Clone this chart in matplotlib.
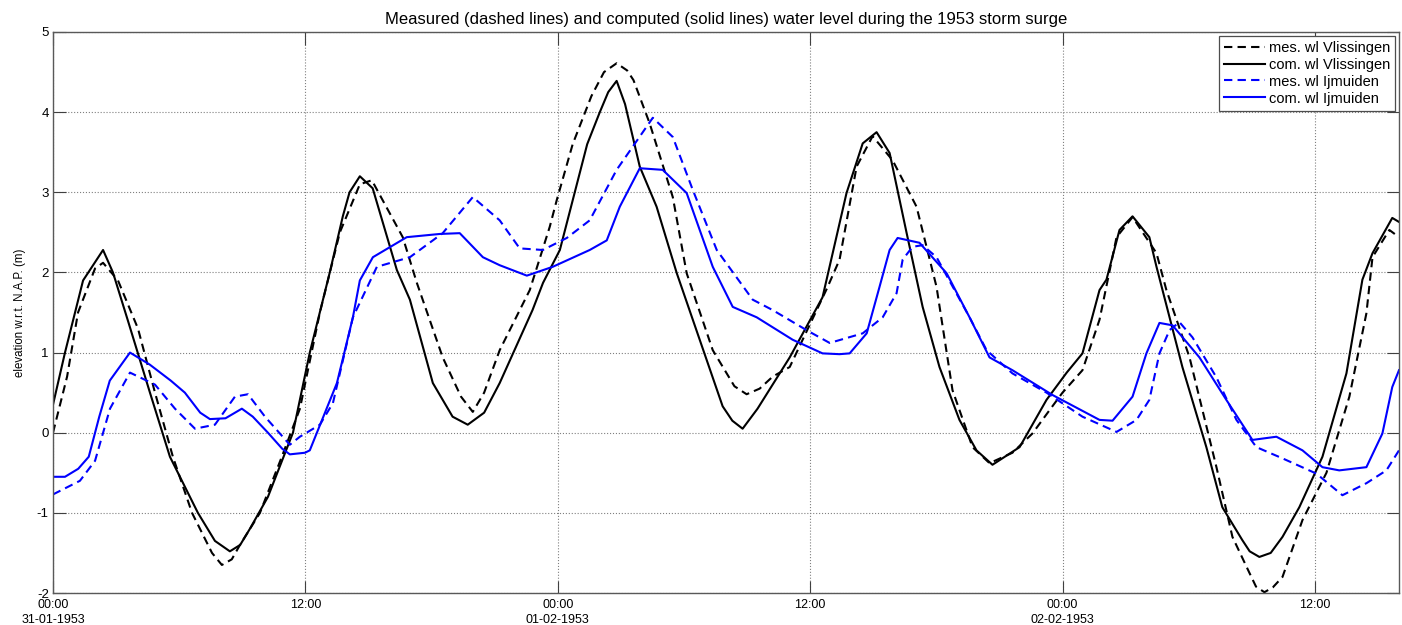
import numpy as np
import matplotlib
matplotlib.use("Agg")
import matplotlib.pyplot as plt

plt.rcParams['font.family'] = ['Liberation Sans', 'DejaVu Sans']
plt.rcParams['axes.unicode_minus'] = False

# hours since 31-01-1953 00:00, water level (m) w.r.t. N.A.P.
t_mes_vl = [0, 0.67, 1.19, 2.0, 2.38, 3.09, 4.04, 4.85, 5.70, 6.61, 7.56, 8.03, 8.5, 8.89, 9.84,
            10.88, 11.74, 12.69, 13.64, 14.59, 15.16, 16.63, 17.30, 18.53, 19.4, 19.96, 20.5, 21.24,
            22.67, 23.62, 23.95, 24.71, 25.6, 26.2, 26.8, 27.3, 27.6, 28.37, 29.47, 30.13, 31.37,
            32.4, 32.98, 33.6, 34.22, 35.03, 36.8, 37.4, 38.21, 38.97, 39.92, 41.06, 42.01, 42.77,
            43.72, 44.53, 45.62, 46.57, 47.38, 48.0, 48.95, 49.76, 50.57, 51.33, 52.47, 52.94,
            54.04, 55.32, 56.08, 56.89, 57.2, 57.60, 58.0, 58.46, 59.41, 60.55, 61.64, 62.45,
            62.74, 63.54, 64.0]
wl_mes_vl = [0.0, 0.7, 1.5, 2.05, 2.12, 1.9, 1.3, 0.5, -0.3, -1.0, -1.5, -1.65, -1.58, -1.4, -1.0,
             -0.3, 0.3, 1.5, 2.5, 3.1, 3.15, 2.44, 1.87, 0.94, 0.45, 0.26, 0.5, 1.03,
             1.78, 2.57, 2.90, 3.6, 4.2, 4.5, 4.61, 4.52, 4.4, 3.86, 2.94, 1.99, 1.03,
             0.58, 0.48, 0.55, 0.70, 0.82, 1.8, 2.16, 3.32, 3.70, 3.40, 2.82, 1.82, 0.53,
             -0.18, -0.38, -0.25, -0.01, 0.28, 0.5, 0.78, 1.41, 2.44, 2.69, 2.24, 1.78,
             0.94, -0.43, -1.30, -1.75, -1.92, -1.99, -1.93, -1.80, -1.09, -0.50, 0.45, 1.49,
             2.19, 2.53, 2.44]

t_com_vl = [0, 0.57, 1.43, 2.38, 2.85, 3.56, 4.61, 5.56, 6.89, 7.7, 8.41, 8.9, 9.36, 10.22,
            11.41, 12.21, 13.16, 13.78, 14.1, 14.59, 15.2, 16.35, 16.97, 18.06, 19.0, 19.72,
            20.5, 21.24, 22.8, 23.3, 24.1, 25.4, 26.0, 26.4, 26.8, 27.2, 27.9, 28.7, 29.66,
            30.75, 31.84, 32.3, 32.79, 33.5, 35.03, 36.59, 37.73, 38.5, 39.16, 39.78, 40.59,
            41.35, 42.15, 43.10, 43.91, 44.67, 45.96, 47.24, 48.2, 48.95, 49.76, 50.09, 50.71,
            51.33, 52.13, 52.47, 53.70, 54.84, 55.60, 56.55, 56.9, 57.36, 57.9, 58.46, 59.26,
            60.36, 61.50, 62.26, 62.74, 63.68, 64.0]
wl_com_vl = [0.35, 1.0, 1.9, 2.28, 2.0, 1.4, 0.5, -0.3, -1.0, -1.35, -1.48, -1.4, -1.2, -0.8,
             0.0, 1.0, 2.0, 2.7, 3.0, 3.20, 3.05, 2.03, 1.66, 0.62, 0.2, 0.10,
             0.25, 0.62, 1.53, 1.87, 2.28, 3.6, 4.0, 4.25, 4.39, 4.1, 3.32, 2.82, 1.99,
             1.16, 0.33, 0.15, 0.05, 0.3, 0.94, 1.69, 2.99, 3.61, 3.75, 3.49, 2.49,
             1.57, 0.82, 0.16, -0.22, -0.40, -0.18, 0.41, 0.75, 0.99, 1.78, 1.91, 2.53,
             2.70, 2.44, 2.07, 0.82, -0.18, -0.93, -1.34, -1.48, -1.55, -1.5, -1.30, -0.93,
             -0.30, 0.74, 1.91, 2.24, 2.68, 2.63]

t_mes_ij = [0, 1.28, 2.0, 2.71, 3.66, 4.85, 5.80, 6.75, 7.70, 8.65, 9.27, 10.08, 11.26, 11.74,
            12.69, 13.31, 14.26, 15.40, 16.97, 18.53, 19.96, 21.24, 22.19, 23.29, 24.43, 25.52,
            26.80, 28.52, 29.47, 30.42, 31.56, 33.27, 34.22, 35.83, 36.93, 38.50, 39.45, 40.11,
            40.40, 40.87, 41.35, 42.01, 43.58, 44.39, 45.62, 47.24, 48.95, 50.57, 51.52, 52.13,
            52.61, 53.09, 53.56, 54.18, 55.32, 56.27, 57.22, 58.46, 60.07, 61.31, 62.45, 63.40,
            64.0]
wl_mes_ij = [-0.77, -0.6, -0.35, 0.3, 0.75, 0.6, 0.3, 0.05, 0.1, 0.45, 0.48, 0.2, -0.15, -0.05,
             0.1, 0.37, 1.44, 2.07, 2.19, 2.49, 2.94, 2.65, 2.30, 2.28, 2.43, 2.65,
             3.28, 3.93, 3.69, 3.03, 2.28, 1.66, 1.53, 1.28, 1.12, 1.24, 1.44, 1.74,
             2.16, 2.32, 2.34, 2.19, 1.44, 1.03, 0.74, 0.50, 0.20, 0.01, 0.16, 0.41,
             0.99, 1.28, 1.38, 1.19, 0.69, 0.16, -0.18, -0.32, -0.51, -0.78, -0.63, -0.47,
             -0.22]

t_com_ij = [0, 0.57, 1.2, 1.7, 2.2, 2.7, 3.66, 4.6, 5.6, 6.27, 7.0, 7.46, 8.2, 8.98, 9.5,
            10.22, 10.9, 11.26, 11.98, 12.21, 13.50, 14.26, 14.59, 15.21, 16.82, 18.39, 19.34,
            20.44, 21.24, 22.53, 23.76, 25.52, 26.33, 26.95, 27.90, 28.99, 30.13, 31.37, 32.32,
            33.46, 35.17, 36.59, 37.40, 37.88, 38.69, 39.30, 39.78, 40.16, 41.20, 42.49, 43.58,
            44.53, 45.62, 47.53, 49.76, 50.38, 51.33, 51.99, 52.61, 53.23, 54.51, 55.79, 57.03,
            58.17, 59.41, 60.36, 61.16, 62.45, 63.21, 63.68, 64.0]
wl_com_ij = [-0.55, -0.55, -0.45, -0.3, 0.2, 0.65, 1.0, 0.85, 0.65, 0.5, 0.25, 0.17, 0.18, 0.3, 0.2,
             0.0, -0.2, -0.27, -0.25, -0.22, 0.62, 1.44, 1.90, 2.19, 2.44, 2.48, 2.49,
             2.19, 2.09, 1.96, 2.07, 2.28, 2.40, 2.82, 3.30, 3.28, 2.99, 2.07, 1.57,
             1.44, 1.16, 0.99, 0.98, 0.99, 1.24, 1.82, 2.28, 2.43, 2.37, 1.99, 1.44,
             0.94, 0.78, 0.47, 0.16, 0.15, 0.45, 0.99, 1.37, 1.34, 0.94, 0.41, -0.09,
             -0.05, -0.22, -0.43, -0.47, -0.43, -0.01, 0.57, 0.78]

tick_hours = [0, 12, 24, 36, 48, 60]
tick_labels = ['00:00\n31-01-1953', '12:00', '00:00\n01-02-1953', '12:00',
               '00:00\n02-02-1953', '12:00']

fig = plt.figure(figsize=(14.02, 6.25), dpi=100)
ax = fig.add_axes([53/1402, 1-593/625, (1399-53)/1402, (593-32)/625])

dash = (4, 2.5)
ax.plot(t_mes_vl, wl_mes_vl, color='k', ls='--', dashes=dash, lw=1.5, label='mes. wl Vlissingen')
ax.plot(t_com_vl, wl_com_vl, color='k', ls='-', lw=1.5, label='com. wl Vlissingen')
ax.plot(t_mes_ij, wl_mes_ij, color='#0000ff', ls='--', dashes=dash, lw=1.5, label='mes. wl Ijmuiden')
ax.plot(t_com_ij, wl_com_ij, color='#0000ff', ls='-', lw=1.5, label='com. wl Ijmuiden')

ax.set_xlim(0, 64)
ax.set_ylim(-2, 5)
ax.set_xticks(tick_hours)
ax.set_xticklabels(tick_labels, fontsize=9, linespacing=1.4)
ax.set_yticks(range(-2, 6))
ax.tick_params(axis='y', labelsize=9.5, pad=3)
ax.tick_params(direction='in', length=9, width=0.8, top=True, right=True, color='0.25')
ax.tick_params(axis='x', pad=4)
ax.grid(True, color='0.5', ls=':', lw=0.8)
for s in ax.spines.values():
    s.set_color('0.35')
    s.set_linewidth(1.0)

ax.set_ylabel('elevation w.r.t. N.A.P. (m)', fontsize=8.3, labelpad=8)
ax.set_title('Measured (dashed lines) and computed (solid lines) water level during the 1953 storm surge',
             fontsize=12, pad=6)

leg = ax.legend(loc='upper right', fontsize=10.5, fancybox=False, framealpha=1,
                edgecolor='0.3', handlelength=2.8, borderaxespad=0.25, labelspacing=0.2,
                handletextpad=0.3, borderpad=0.35)
leg.get_frame().set_linewidth(0.9)

fig.savefig('out.png', dpi=100)
